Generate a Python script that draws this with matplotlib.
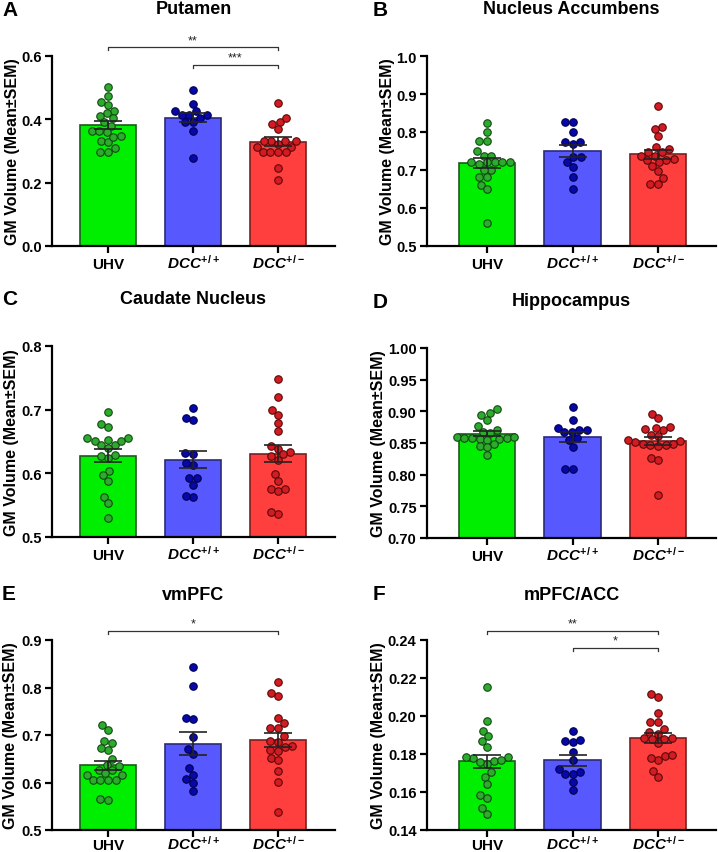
import numpy as np
import matplotlib
matplotlib.use("Agg")
import matplotlib.pyplot as plt
from matplotlib.ticker import FormatStrFormatter

plt.rcParams['font.family'] = ['Liberation Sans', 'DejaVu Sans']
plt.rcParams['font.weight'] = 'bold'
plt.rcParams['mathtext.fontset'] = 'custom'
plt.rcParams['mathtext.it'] = 'Liberation Sans:italic:bold'
plt.rcParams['mathtext.rm'] = 'Liberation Sans:bold'
plt.rcParams['mathtext.bf'] = 'Liberation Sans:bold'

# ---------------- data ----------------
groups = ["UHV", r"$\mathit{DCC}^{\mathit{+/+}}$", r"$\mathit{DCC}^{\mathit{+/-}}$"]

putamen_uhv = [0.501, 0.475, 0.456, 0.445, 0.427, 0.419, 0.411, 0.403, 0.391, 0.380,
               0.362, 0.359, 0.362, 0.348, 0.333, 0.327, 0.309, 0.298, 0.298, 0.345]
putamen_wt = [0.494, 0.448, 0.425, 0.425, 0.414, 0.414, 0.414, 0.404, 0.393, 0.393, 0.363, 0.277]
putamen_het = [0.452, 0.393, 0.385, 0.404, 0.369, 0.333, 0.333, 0.333, 0.333, 0.314, 0.314,
               0.298, 0.298, 0.298, 0.298, 0.322, 0.246, 0.209]

nacc_uhv = [0.823, 0.800, 0.777, 0.777, 0.749, 0.738, 0.738, 0.720, 0.720, 0.720, 0.720,
            0.720, 0.700, 0.700, 0.682, 0.682, 0.661, 0.649, 0.561, 0.715]
nacc_wt = [0.826, 0.826, 0.799, 0.774, 0.774, 0.768, 0.735, 0.735, 0.722, 0.707, 0.682, 0.651]
nacc_het = [0.868, 0.812, 0.808, 0.790, 0.760, 0.755, 0.747, 0.747, 0.738, 0.728, 0.726,
            0.726, 0.737, 0.711, 0.698, 0.679, 0.663, 0.663, 0.720]

caud_uhv = [0.696, 0.672, 0.677, 0.655, 0.651, 0.645, 0.645, 0.651, 0.653, 0.656, 0.629,
            0.624, 0.627, 0.604, 0.597, 0.588, 0.563, 0.553, 0.530, 0.640]
caud_wt = [0.702, 0.684, 0.687, 0.632, 0.631, 0.613, 0.617, 0.592, 0.592, 0.582, 0.563, 0.565]
caud_het = [0.748, 0.720, 0.699, 0.692, 0.679, 0.666, 0.643, 0.639, 0.633, 0.627, 0.621,
            0.599, 0.588, 0.576, 0.572, 0.576, 0.536, 0.539, 0.630]

hipp_uhv = [0.904, 0.895, 0.898, 0.887, 0.877, 0.870, 0.866, 0.868, 0.860, 0.858, 0.857,
            0.855, 0.858, 0.857, 0.858, 0.860, 0.845, 0.848, 0.843, 0.831]
hipp_wt = [0.907, 0.886, 0.870, 0.867, 0.873, 0.867, 0.870, 0.858, 0.855, 0.844, 0.809, 0.809]
hipp_het = [0.896, 0.889, 0.872, 0.876, 0.870, 0.874, 0.863, 0.861, 0.853, 0.849, 0.847,
            0.846, 0.847, 0.849, 0.851, 0.826, 0.823, 0.768, 0.855]

vmpfc_uhv = [0.722, 0.711, 0.687, 0.683, 0.669, 0.672, 0.649, 0.635, 0.637, 0.626, 0.627,
             0.616, 0.606, 0.606, 0.605, 0.606, 0.616, 0.565, 0.563, 0.620]
vmpfc_wt = [0.8425, 0.803, 0.736, 0.733, 0.695, 0.671, 0.659, 0.630, 0.607, 0.616, 0.600, 0.583]
vmpfc_het = [0.812, 0.783, 0.788, 0.725, 0.736, 0.715, 0.715, 0.697, 0.688, 0.686, 0.676,
             0.669, 0.667, 0.652, 0.647, 0.625, 0.602, 0.537, 0.675]

acc_uhv = [0.2151, 0.1972, 0.1923, 0.1896, 0.1870, 0.1838, 0.1786, 0.1779, 0.1765, 0.1770,
           0.1784, 0.1747, 0.1707, 0.1681, 0.1642, 0.1583, 0.1568, 0.1516, 0.1484, 0.1760]
acc_wt = [0.1923, 0.1870, 0.1862, 0.1875, 0.1812, 0.1770, 0.1721, 0.1707, 0.1695, 0.1695,
          0.1651, 0.1611]
acc_het = [0.2102, 0.2116, 0.2016, 0.1967, 0.1967, 0.1915, 0.1903, 0.1929, 0.1883, 0.1878,
           0.1857, 0.1878, 0.1883, 0.1789, 0.1770, 0.1797, 0.1677, 0.1709, 0.1780]

titles = ["Putamen", "Nucleus Accumbens", "Caudate Nucleus", "Hippocampus", "vmPFC", "mPFC/ACC"]
letters = ["A", "B", "C", "D", "E", "F"]
panel_data = [
    (putamen_uhv, putamen_wt, putamen_het),
    (nacc_uhv, nacc_wt, nacc_het),
    (caud_uhv, caud_wt, caud_het),
    (hipp_uhv, hipp_wt, hipp_het),
    (vmpfc_uhv, vmpfc_wt, vmpfc_het),
    (acc_uhv, acc_wt, acc_het),
]
ylims = [(0.0, 0.6), (0.5, 1.0), (0.5, 0.8), (0.70, 1.00), (0.5, 0.9), (0.14, 0.24)]
yticks = [np.arange(0, 0.61, 0.2), np.arange(0.5, 1.01, 0.1), np.arange(0.5, 0.81, 0.1),
          np.arange(0.70, 1.001, 0.05), np.arange(0.5, 0.91, 0.1), np.arange(0.14, 0.241, 0.02)]
yfmt = ["%.1f", "%.1f", "%.1f", "%.2f", "%.1f", "%.2f"]
# significance brackets: (group_from, group_to, height, label)
sig = [
    [(0, 2, 0.628, "**"), (1, 2, 0.572, "***")],
    [], [], [],
    [(0, 2, 0.919, "*")],
    [(0, 2, 0.2447, "**"), (1, 2, 0.2358, "*")],
]

bar_colors = ["#00EE00", "#5858FF", "#FF3E3E"]
bar_edges = ["#1E5A1E", "#2A2A7A", "#7A2020"]
dot_colors = ["#2EAA2E", "#0808A8", "#D21C24"]
dot_edges = ["#104A10", "#000050", "#5A0808"]

W, H = 718, 853
fig = plt.figure(figsize=(W / 100, H / 100), dpi=100)

# axes boxes in pixels (left, top, right, bottom)
boxes = [(52, 57, 335, 247), (427, 57, 716, 247),
         (52, 347, 335, 538), (427, 349, 716, 539),
         (52, 641, 335, 831), (427, 641, 716, 831)]
centers_px = [(108, 193, 278), (487, 573, 658)]
ylabel_x_px = [20, 395, 19, 386, 18, 386]
title_y_px = [10, 10, 300, 302, 595, 595]
xlabel_pad = [10.8, 10.8, 10.8, 10.8, 8.4, 8.4]


def swarm(vals, ax, xc, diam_px):
    vals = np.asarray(vals, float)
    disp = ax.transData.transform(np.column_stack([np.full(len(vals), xc), vals]))
    ypx = disp[:, 1]
    order = np.argsort(ypx)
    placed_x, placed_y = [], []
    xs = np.zeros(len(vals))
    for i in order:
        y = ypx[i]
        cands = [0.0]
        for px_, py_ in zip(placed_x, placed_y):
            dy = y - py_
            if abs(dy) < diam_px:
                dx = np.sqrt(diam_px ** 2 - dy ** 2)
                cands += [px_ + dx, px_ - dx]
        cands = sorted(cands, key=lambda c: (abs(c), c))
        for c in cands:
            ok = True
            for px_, py_ in zip(placed_x, placed_y):
                if (c - px_) ** 2 + (y - py_) ** 2 < diam_px ** 2 - 1e-6:
                    ok = False
                    break
            if ok:
                xs[i] = c
                placed_x.append(c)
                placed_y.append(y)
                break
    xdisp = ax.transData.transform([[xc, 0]])[0, 0] + xs
    inv = ax.transData.inverted()
    return inv.transform(np.column_stack([xdisp, ypx]))[:, 0]


for k in range(6):
    l, t, r, b = boxes[k]
    ax = fig.add_axes([l / W, 1 - b / H, (r - l) / W, (b - t) / H])
    col = k % 2
    cx = centers_px[col]
    sp = (cx[2] - cx[0]) / 2
    ax.set_xlim((l - cx[0]) / sp, (r - cx[0]) / sp)
    ax.set_ylim(*ylims[k])
    x = np.arange(3)
    for g in range(3):
        vals = np.asarray(panel_data[k][g])
        m = vals.mean()
        sem = vals.std(ddof=1) / np.sqrt(len(vals))
        ax.bar(g, m - ylims[k][0], bottom=ylims[k][0], width=0.66, color=bar_colors[g],
               edgecolor=bar_edges[g], linewidth=1.2, zorder=1)
        xs = swarm(vals, ax, g, 7.6)
        ax.scatter(xs, vals, s=(5.4) ** 2, color=dot_colors[g], edgecolors=dot_edges[g],
                   linewidths=0.8, zorder=3, clip_on=False)
        ax.errorbar(g, m, yerr=sem, color="#222222", capsize=10, elinewidth=1.2,
                    capthick=1.2, zorder=4)
    ax.spines['top'].set_visible(False)
    ax.spines['right'].set_visible(False)
    ax.spines['left'].set_linewidth(1.6)
    ax.spines['bottom'].set_linewidth(1.6)
    ax.set_xticks(x)
    ax.set_xticklabels(groups, fontsize=11, fontweight='bold')
    for lab in ax.get_xticklabels():
        lab.set_verticalalignment('baseline')
    ax.set_yticks(yticks[k])
    ax.yaxis.set_major_formatter(FormatStrFormatter(yfmt[k]))
    ax.tick_params(axis='both', width=1.6, length=5, direction='out')
    ax.tick_params(axis='x', labelsize=11, pad=xlabel_pad[k])
    ax.tick_params(axis='y', labelsize=10.5, pad=2.5)
    for lab in ax.get_yticklabels():
        lab.set_fontweight('bold')
    ax.set_ylabel("GM Volume (Mean±SEM)", fontsize=11.5, fontweight='bold')
    ax.yaxis.set_label_coords((ylabel_x_px[k] - l) / (r - l), 0.5)
    # title and panel letter
    tcy = title_y_px[k]
    fig.text(((l + r) / 2) / W, 1 - tcy / H, titles[k], ha='center', va='center',
             fontsize=13, fontweight='bold')
    lx = [2, 373][col]
    fig.text(lx / W, 1 - tcy / H, letters[k], ha='left', va='center', fontsize=15,
             fontweight='bold')
    # significance brackets
    yr = ylims[k][1] - ylims[k][0]
    for (g1, g2, hgt, lab) in sig[k]:
        tick = yr * 0.016
        ax.plot([g1, g1, g2, g2], [hgt - tick, hgt, hgt, hgt - tick], color="#333333",
                lw=0.9, clip_on=False, zorder=5)
        ax.text((g1 + g2) / 2, hgt + yr * 0.006, lab, ha='center', va='bottom',
                fontsize=9, fontweight='normal', color="#222222", clip_on=False)

fig.savefig("out.png", dpi=100)
